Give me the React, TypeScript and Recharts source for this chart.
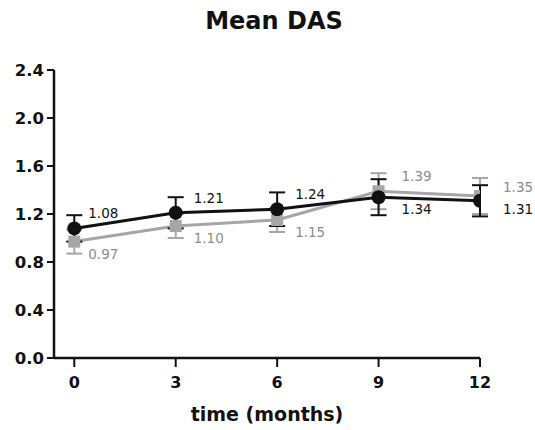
import React from 'react';
import { LineChart, Line, XAxis, YAxis, ErrorBar, LabelList } from 'recharts';

const months = [0, 3, 6, 9, 12];
const blackMean = [1.08, 1.21, 1.24, 1.34, 1.31];
const blackErr = [0.11, 0.13, 0.14, 0.15, 0.13];
const grayMean = [0.97, 1.1, 1.15, 1.39, 1.35];
const grayErr = [0.1, 0.1, 0.1, 0.15, 0.15];
const yTicks = [0, 0.4, 0.8, 1.2, 1.6, 2.0, 2.4];

const FONT = '"DejaVu Sans", "Liberation Sans", Arial, sans-serif';
const BLACK = '#111';
const GRAY = '#a6a6a6';
const GRAY_TEXT = '#8c8c8c';

const data = months.map((m, i) => ({
  month: m,
  black: blackMean[i],
  blackErr: blackErr[i],
  gray: grayMean[i],
  grayErr: grayErr[i],
}));

const SquareDot = (props: any) => {
  const { cx, cy } = props;
  if (cx == null || cy == null) return null;
  return <rect x={cx - 6} y={cy - 6} width={12} height={12} fill={GRAY} />;
};

const CircleDot = (props: any) => {
  const { cx, cy } = props;
  if (cx == null || cy == null) return null;
  return <circle cx={cx} cy={cy} r={7} fill={BLACK} />;
};

// label goes above when this series is the higher one at that time point
const makeLabel = (own: number[], other: number[], color: string) => (props: any) => {
  const { x, y, index, value } = props;
  const above = own[index] >= other[index];
  const last = index === own.length - 1;
  const dx = index === 0 ? 14 : index < 3 ? 18 : 23;
  const dy = above ? (last ? -4 : -10) : last ? 13 : 17;
  return (
    <text x={x + dx} y={y + dy} fill={color} fontSize={13.5} fontFamily={FONT}>
      {Number(value).toFixed(2)}
    </text>
  );
};

export default function App() {
  return (
    <div style={{ position: 'absolute', left: 0, top: 0, width: 535, height: 430, background: '#fff' }}>
      <div
        style={{
          position: 'absolute',
          left: 0,
          width: 548,
          top: 7,
          textAlign: 'center',
          fontFamily: FONT,
          fontWeight: 'bold',
          fontSize: 24,
          color: BLACK,
        }}
      >
        Mean DAS
      </div>
      <LineChart
        width={535}
        height={430}
        data={data}
        margin={{ top: 70, right: 55, bottom: 0, left: 0 }}
      >
        <XAxis
          dataKey="month"
          type="number"
          domain={[-0.6, 12]}
          ticks={months}
          allowDataOverflow
          axisLine={{ stroke: BLACK, strokeWidth: 2.5 }}
          tickLine={{ stroke: BLACK, strokeWidth: 2 }}
          tickSize={9}
          tick={{ fill: BLACK, fontSize: 16, fontWeight: 'bold', fontFamily: FONT }}
          tickMargin={10}
          height={72}
          label={{
            value: 'time (months)',
            position: 'insideBottom',
            offset: 9,
            fill: BLACK,
            fontSize: 19,
            fontWeight: 'bold',
            fontFamily: FONT,
          }}
        />
        <YAxis
          type="number"
          domain={[0, 2.4]}
          ticks={yTicks}
          width={54}
          axisLine={{ stroke: BLACK, strokeWidth: 2.5 }}
          tickLine={{ stroke: BLACK, strokeWidth: 2 }}
          tickSize={7}
          tickMargin={3}
          tickFormatter={(v: number) => v.toFixed(1)}
          tick={{ fill: BLACK, fontSize: 16.5, fontWeight: 'bold', fontFamily: FONT }}
        />
        <Line
          dataKey="gray"
          stroke={GRAY}
          strokeWidth={3}
          dot={<SquareDot />}
          activeDot={false}
          isAnimationActive={false}
        >
          <ErrorBar dataKey="grayErr" width={8} strokeWidth={2} stroke={GRAY} direction="y" />
          <LabelList dataKey="gray" content={makeLabel(grayMean, blackMean, GRAY_TEXT)} />
        </Line>
        <Line
          dataKey="black"
          stroke={BLACK}
          strokeWidth={3}
          dot={<CircleDot />}
          activeDot={false}
          isAnimationActive={false}
        >
          <ErrorBar dataKey="blackErr" width={8} strokeWidth={2} stroke={BLACK} direction="y" />
          <LabelList dataKey="black" content={makeLabel(blackMean, grayMean, BLACK)} />
        </Line>
      </LineChart>
    </div>
  );
}
